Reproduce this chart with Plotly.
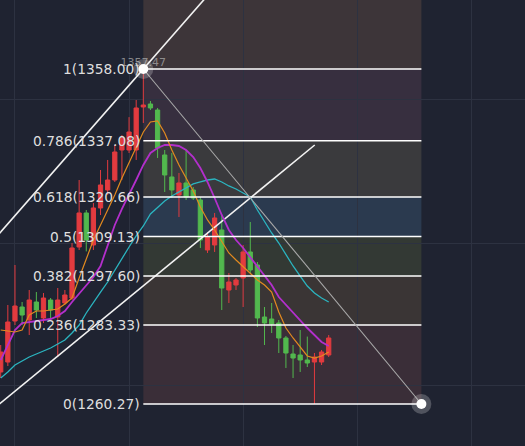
import plotly.graph_objects as go

# ---------------- data ----------------
candle_idx = list(range(47))
opens = [1269.61, 1272.52, 1284.48, 1288.57, 1284.77, 1290.03, 1285.36, 1290.61, 1285.65, 1289.74,
         1291.19, 1306.08, 1316.00, 1306.66, 1317.46, 1322.71, 1325.62, 1334.37, 1334.37, 1334.37,
         1346.92, 1347.79, 1346.04, 1332.92, 1326.50, 1321.25, 1324.75, 1322.71, 1319.79, 1305.20,
         1306.66, 1311.04, 1293.53, 1294.99, 1297.03, 1304.62, 1300.82, 1285.65, 1285.07, 1283.90,
         1279.53, 1274.86, 1274.57, 1273.11, 1272.52, 1272.52, 1274.57]
closes = [1275.44, 1284.19, 1288.86, 1286.23, 1290.61, 1287.69, 1291.19, 1287.69, 1290.61, 1292.07,
          1305.79, 1316.00, 1308.12, 1317.46, 1324.17, 1325.62, 1333.79, 1337.87, 1339.62, 1346.63,
          1347.50, 1346.63, 1334.95, 1327.08, 1322.71, 1324.75, 1320.66, 1320.37, 1308.12, 1308.99,
          1314.54, 1294.11, 1295.86, 1296.45, 1304.62, 1299.37, 1285.36, 1283.90, 1283.61, 1279.53,
          1275.15, 1273.69, 1273.11, 1272.23, 1273.98, 1275.44, 1279.53]
highs = [1277.48, 1289.15, 1300.82, 1290.03, 1293.53, 1292.94, 1292.65, 1291.19, 1294.11, 1293.53,
         1307.24, 1325.62, 1316.87, 1318.91, 1328.54, 1331.46, 1335.83, 1338.75, 1343.96, 1348.96,
         1358.00, 1348.67, 1346.63, 1334.37, 1333.50, 1327.67, 1334.37, 1323.58, 1320.66, 1310.45,
         1316.00, 1315.41, 1298.49, 1297.03, 1306.66, 1313.37, 1301.70, 1288.57, 1289.74, 1284.77,
         1280.11, 1277.48, 1281.86, 1279.94, 1275.15, 1276.03, 1280.40]
lows = [1267.86, 1271.36, 1283.32, 1283.32, 1280.40, 1285.36, 1283.90, 1284.77, 1273.98, 1289.15,
        1290.61, 1305.20, 1304.79, 1305.20, 1315.41, 1321.25, 1325.04, 1325.62, 1333.50, 1331.46,
        1342.25, 1346.04, 1332.04, 1322.12, 1320.37, 1314.83, 1319.79, 1319.79, 1305.79, 1304.33,
        1304.62, 1287.69, 1289.74, 1293.53, 1288.57, 1298.49, 1282.73, 1277.48, 1280.98, 1275.15,
        1270.78, 1267.86, 1269.61, 1271.07, 1260.27, 1271.65, 1273.98]

ma_orange = [1281.86, 1281.57, 1281.28, 1281.86, 1286.23, 1287.40, 1287.40, 1287.69, 1287.98, 1289.44,
             1291.19, 1297.03, 1302.86, 1308.12, 1312.50, 1316.87, 1321.25, 1326.21, 1330.58, 1334.95,
             1339.62, 1342.54, 1342.83, 1339.33, 1334.37, 1330.00, 1326.21, 1322.42, 1317.75, 1313.96,
             1311.04, 1307.54, 1304.33, 1302.28, 1300.24, 1298.49, 1296.45, 1294.99, 1292.94, 1287.11,
             1282.44, 1279.53, 1276.90, 1274.28, 1273.69, 1274.28, 1275.44]
ma_magenta = [1273.11, 1277.48, 1281.86, 1283.90, 1284.19, 1284.48, 1284.77, 1285.07, 1285.94, 1287.40,
              1290.03, 1292.36, 1294.70, 1297.32, 1300.53, 1306.66, 1312.50, 1317.17, 1321.25, 1325.62,
              1330.00, 1333.50, 1334.95, 1335.83, 1335.83, 1335.54, 1334.37, 1332.33, 1329.12, 1325.04,
              1320.37, 1315.41, 1311.04, 1308.12, 1305.79, 1303.16, 1300.53, 1297.90, 1294.99, 1291.49,
              1289.15, 1287.11, 1284.77, 1282.44, 1280.40, 1278.36, 1277.19]
ma_cyan = [1267.86, 1269.61, 1271.65, 1272.81, 1273.98, 1274.86, 1275.73, 1276.61, 1277.77, 1278.94,
           1280.98, 1283.32, 1286.82, 1290.03, 1292.94, 1295.86, 1299.37, 1302.86, 1306.08, 1309.29,
           1312.21, 1315.70, 1317.75, 1319.50, 1320.96, 1322.12, 1323.29, 1324.46, 1325.04, 1325.62,
           1325.91, 1325.04, 1323.88, 1323.00, 1321.83, 1320.66, 1316.87, 1313.37, 1310.16, 1307.24,
           1303.74, 1300.53, 1297.61, 1294.69, 1292.65, 1291.19, 1290.03]

fib_ratios = ["1", "0.786", "0.618", "0.5", "0.382", "0.236", "0"]
fib_prices = [1358.00, 1337.08, 1320.66, 1309.13, 1297.60, 1283.33, 1260.27]
fib_start_idx = 20
fib_end_idx = 59
fib_top_price = 1385.0
fib_band_colors = ["#3d3539", "#372f3f", "#3a3a3d", "#2b3a4f", "#333934", "#3a3535", "#3a2e38"]

trend_upper_x = [-2, 30]
trend_upper_y = [1305.70, 1381.78]
trend_lower_x = [-2, 44.04]
trend_lower_y = [1257.15, 1335.83]
diag_x = [20, 59]
diag_y = [1358.00, 1260.27]
high_label = "1357.47"

grid_x = [2, 18, 34, 50, 66]
grid_y = [1265.53, 1307.24, 1349.25]

BG = "#1f2331"
GRID = "#2d3241"
RED = "#e23b3f"
GREEN = "#52b84e"

fig = go.Figure()

# fib bands (below grid)
band_edges = [fib_top_price] + fib_prices
for k, col in enumerate(fib_band_colors):
    fig.add_shape(type="rect", xref="x", yref="y", x0=fib_start_idx, x1=fib_end_idx,
                  y0=band_edges[k + 1], y1=band_edges[k], fillcolor=col,
                  line=dict(width=0), layer="below")

# trend lines
fig.add_trace(go.Scatter(x=trend_upper_x, y=trend_upper_y, mode="lines",
                         line=dict(color="#f2f2f2", width=1.6), hoverinfo="skip"))
fig.add_trace(go.Scatter(x=trend_lower_x, y=trend_lower_y, mode="lines",
                         line=dict(color="#f2f2f2", width=1.6), hoverinfo="skip"))

# candles
fig.add_trace(go.Candlestick(
    x=candle_idx, open=opens, high=highs, low=lows, close=closes,
    increasing=dict(line=dict(color=RED, width=1), fillcolor=RED),
    decreasing=dict(line=dict(color=GREEN, width=1), fillcolor=GREEN),
    whiskerwidth=0, hoverinfo="skip"))

# moving averages
fig.add_trace(go.Scatter(x=candle_idx, y=ma_cyan, mode="lines",
                         line=dict(color="#2bb5c0", width=1.3), hoverinfo="skip"))
fig.add_trace(go.Scatter(x=candle_idx, y=ma_magenta, mode="lines",
                         line=dict(color="#b32fcc", width=1.8), hoverinfo="skip"))
fig.add_trace(go.Scatter(x=candle_idx, y=ma_orange, mode="lines",
                         line=dict(color="#e28a1f", width=1.2), hoverinfo="skip"))

# fib level lines
for p in fib_prices:
    fig.add_trace(go.Scatter(x=[fib_start_idx, fib_end_idx], y=[p, p], mode="lines",
                             line=dict(color="#ffffff", width=1.6), hoverinfo="skip"))

# fib diagonal
fig.add_trace(go.Scatter(x=diag_x, y=diag_y, mode="lines",
                         line=dict(color="#a9a9a9", width=1.1), hoverinfo="skip"))

# high price label (behind the anchor dot)
fig.add_trace(go.Scatter(x=[diag_x[0]], y=[diag_y[0]], mode="text", text=[high_label],
                         textposition="top center", marker=dict(size=1),
                         textfont=dict(family="DejaVu Sans", size=11, color="rgba(170,170,170,0.75)"),
                         hoverinfo="skip"))

# anchor dots
fig.add_trace(go.Scatter(x=diag_x, y=diag_y, mode="markers",
                         marker=dict(size=20, color="rgba(255,255,255,0.22)", line=dict(width=0)),
                         hoverinfo="skip"))
fig.add_trace(go.Scatter(x=diag_x, y=diag_y, mode="markers",
                         marker=dict(size=10, color="#ffffff", line=dict(width=0)),
                         hoverinfo="skip"))

# fib labels
for r, p in zip(fib_ratios, fib_prices):
    fig.add_annotation(x=fib_start_idx, y=p, xref="x", yref="y",
                       text=f"{r}({p:.2f})", showarrow=False, xanchor="right", yanchor="middle",
                       xshift=-1, font=dict(family="DejaVu Sans", size=13.8, color="#dedede"))

fig.update_layout(
    width=525, height=446, margin=dict(l=0, r=0, t=0, b=0, pad=0),
    paper_bgcolor=BG, plot_bgcolor=BG, showlegend=False, boxgap=0.15,
    xaxis=dict(range=[-0.1, 73.53], showticklabels=False, tickvals=grid_x, showgrid=True,
               gridcolor=GRID, gridwidth=1, zeroline=False, rangeslider=dict(visible=False),
               fixedrange=True),
    yaxis=dict(range=[1248.02, 1378.13], showticklabels=False, tickvals=grid_y, showgrid=True,
               gridcolor=GRID, gridwidth=1, zeroline=False, fixedrange=True),
)

fig.write_html("out.html", config=dict(displayModeBar=False),
               post_script="document.body.style.margin='0';document.body.style.background='%s';" % BG)
